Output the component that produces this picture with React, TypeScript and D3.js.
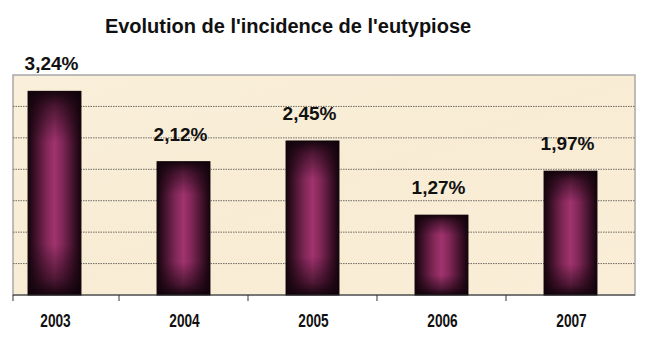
import React from "react";
import * as d3 from "d3";

const years = ["2003", "2004", "2005", "2006", "2007"];
const incidence = [3.24, 2.12, 2.45, 1.27, 1.97];
const valueLabels = ["3,24%", "2,12%", "2,45%", "1,27%", "1,97%"];
const yTicks = [0, 0.5, 1, 1.5, 2, 2.5, 3, 3.5];
const title = "Evolution de l'incidence de l'eutypiose";

const W = 650;
const H = 352;
const plotLeft = 13;
const plotRight = 635;
const plotTop = 75;
const plotBottom = 295;
const step = 129;

export default function App() {
  const x = d3
    .scaleBand<string>()
    .domain(years)
    .range([plotRight - step * years.length, plotRight])
    .paddingInner(0.59)
    .paddingOuter(0.295);
  const y = d3.scaleLinear().domain([0, 3.5]).range([plotBottom, plotTop]);
  const boundaries = years.map((yr) => (x(yr) as number) - (x.step() * 0.59) / 2);
  const valueFont = "'Liberation Sans', Arial, sans-serif";

  return (
    <svg
      width={W}
      height={H}
      style={{ position: "absolute", left: 0, top: 0, background: "#ffffff" }}
    >
      <defs>
        <linearGradient id="barH" x1="0" y1="0" x2="1" y2="0">
          <stop offset="0%" stopColor="#14040c" />
          <stop offset="12%" stopColor="#3a0f26" />
          <stop offset="35%" stopColor="#812757" />
          <stop offset="50%" stopColor="#a0336e" />
          <stop offset="65%" stopColor="#812757" />
          <stop offset="88%" stopColor="#3a0f26" />
          <stop offset="100%" stopColor="#14040c" />
        </linearGradient>
        <linearGradient id="barV" x1="0" y1="0" x2="0" y2="1">
          <stop offset="0%" stopColor="#10030a" stopOpacity="0.95" />
          <stop offset="8%" stopColor="#10030a" stopOpacity="0.55" />
          <stop offset="25%" stopColor="#10030a" stopOpacity="0" />
          <stop offset="75%" stopColor="#10030a" stopOpacity="0" />
          <stop offset="92%" stopColor="#10030a" stopOpacity="0.55" />
          <stop offset="100%" stopColor="#10030a" stopOpacity="0.95" />
        </linearGradient>
        <linearGradient id="bgGrad" x1="0" y1="0" x2="1" y2="1">
          <stop offset="0%" stopColor="#faefda" />
          <stop offset="50%" stopColor="#f8ecd4" />
          <stop offset="100%" stopColor="#faeed8" />
        </linearGradient>
      </defs>

      <text
        x={288}
        y={33}
        textAnchor="middle"
        fontFamily={valueFont}
        fontWeight="bold"
        fontSize={20}
        fill="#111"
      >
        {title}
      </text>

      <rect
        x={plotLeft}
        y={plotTop}
        width={plotRight - plotLeft}
        height={plotBottom - plotTop}
        fill="url(#bgGrad)"
        stroke="#a8a8a8"
        strokeWidth={1.5}
      />

      {yTicks
        .filter((t) => t > 0 && t < 3.5)
        .map((t) => (
          <line
            key={t}
            x1={plotLeft}
            x2={plotRight}
            y1={y(t)}
            y2={y(t)}
            stroke="#6e6a62"
            strokeWidth={1}
            strokeDasharray="1.5,1"
          />
        ))}

      {years.map((yr, i) => {
        const bx = x(yr) as number;
        const by = y(incidence[i]);
        const bh = plotBottom - by;
        return (
          <g key={yr}>
            <rect x={bx} y={by} width={x.bandwidth()} height={bh} fill="url(#barH)" />
            <rect x={bx} y={by} width={x.bandwidth()} height={bh} fill="url(#barV)" stroke="#0d0208" strokeWidth={1} />
          </g>
        );
      })}

      <line x1={plotLeft} x2={plotRight} y1={plotBottom} y2={plotBottom} stroke="#333" strokeWidth={1} />
      {[plotLeft, ...boundaries.slice(1)].map((bx, i) => (
        <line key={i} x1={bx} x2={bx} y1={plotBottom} y2={plotBottom + 6} stroke="#333" strokeWidth={1} />
      ))}

      {years.map((yr, i) => {
        const cx = (x(yr) as number) + x.bandwidth() / 2;
        return (
          <text
            key={yr}
            x={cx - 3}
            y={y(incidence[i]) - 21}
            textAnchor="middle"
            fontFamily={valueFont}
            fontWeight="bold"
            fontSize={19}
            fill="#111"
          >
            {valueLabels[i]}
          </text>
        );
      })}

      {years.map((yr) => {
        const cx = (x(yr) as number) + x.bandwidth() / 2;
        return (
          <text
            key={yr}
            transform={`translate(${cx + 1},327) scale(0.74,1)`}
            textAnchor="middle"
            fontFamily={valueFont}
            fontWeight="bold"
            fontSize={18.5}
            fill="#111"
          >
            {yr}
          </text>
        );
      })}
    </svg>
  );
}
